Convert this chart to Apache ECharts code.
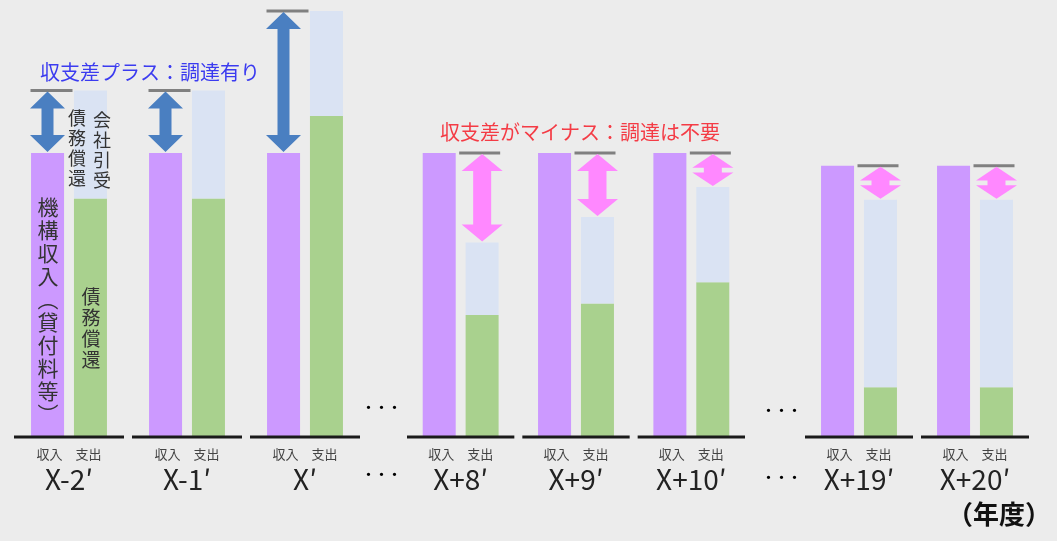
<!DOCTYPE html>
<html>
<head>
<meta charset="utf-8">
<script src="https://cdn.jsdelivr.net/npm/echarts@6/dist/echarts.min.js"></script>
<style>
  html,body{margin:0;padding:0;background:#ececec;}
  #main{width:1057px;height:541px;}
</style>
</head>
<body>
<div id="main"></div>
<script>
// 年度ごとの収支（機構収入=100 とした相対値）
var years = ['X-2′', 'X-1′', 'X′', 'X+8′', 'X+9′', 'X+10′', 'X+19′', 'X+20′'];
var income = [100, 100, 100, 100, 100, 100, 95.5, 95.5];      // 機構収入（貸付料等）
var repayment = [84, 84, 113, 43, 47, 54.5, 17.5, 17.5];      // 債務償還
var expenditure = [122, 122, 150, 68.5, 77.5, 88, 83.5, 83.5]; // 支出合計（会社引受債務償還を含む）
var panels = [[0, 3], [3, 6], [6, 8]];                          // 「・・・」で区切られた区間

var FONT = '"Noto Sans CJK JP", sans-serif';
var grids = [
  {left: 10, width: 354, top: 11, bottom: 104},
  {left: 403, width: 346, top: 11, bottom: 104},
  {left: 801, width: 232, top: 11, bottom: 104}
];

// 矢印・グレー線・下線
function renderGroup(params, api) {
  var idx = api.value(0);
  var inc = api.value(1), exp = api.value(2);
  var base = api.coord([idx, 0]);
  var band = api.size([1, 0])[0];
  var yInc = api.coord([idx, inc])[1];
  var yExp = api.coord([idx, exp])[1];
  var plus = exp > inc;
  var cx = plus ? base[0] - 21.5 : base[0] + 21.5;
  var yTop = Math.min(yInc, yExp), yBot = Math.max(yInc, yExp);
  var hw = plus ? 17.5 : 20.5, sw = plus ? 6 : 9;
  var hl = Math.min(17, (yBot - yTop) * 0.4);
  var t = yTop + 1, b = yBot - 1;
  var pts = [
    [cx, t], [cx + hw, t + hl], [cx + sw, t + hl], [cx + sw, b - hl], [cx + hw, b - hl],
    [cx, b], [cx - hw, b - hl], [cx - sw, b - hl], [cx - sw, t + hl], [cx - hw, t + hl]
  ];
  var gx1 = plus ? cx - 17 : cx - 23, gx2 = plus ? cx + 25 : cx + 18;
  return {
    type: 'group',
    children: [
      {type: 'line', shape: {x1: base[0] - band / 2 + 4, y1: base[1], x2: base[0] + band / 2 - 4, y2: base[1]},
        style: {stroke: '#1a1a1a', lineWidth: 3}},
      {type: 'line', shape: {x1: gx1, y1: yTop, x2: gx2, y2: yTop},
        style: {stroke: '#808080', lineWidth: 3}},
      {type: 'polygon', shape: {points: pts},
        style: {fill: plus ? '#4a7fc1' : '#ff88ff'}}
    ]
  };
}

var xAxis = [], yAxis = [], series = [];
for (var g = 0; g < panels.length; g++) {
  var s = panels[g][0], e = panels[g][1];
  xAxis.push({
    gridIndex: g, type: 'category', data: years.slice(s, e),
    axisLine: {show: false}, axisTick: {show: false},
    axisLabel: {
      margin: 9, interval: 0,
      formatter: function (v) { return '{s|収入　支出}\n{b|' + v + '}'; },
      rich: {
        s: {fontSize: 13, lineHeight: 17, color: '#444', fontFamily: FONT},
        b: {fontSize: 28, lineHeight: 32, color: '#222', fontFamily: FONT}
      }
    }
  });
  yAxis.push({gridIndex: g, type: 'value', min: 0, max: 150, show: false});
  var rest = [], grp = [];
  for (var i = s; i < e; i++) {
    rest.push(expenditure[i] - repayment[i]);
    grp.push([i - s, income[i], expenditure[i]]);
  }
  series.push({
    name: '収入', type: 'bar', xAxisIndex: g, yAxisIndex: g, stack: 'in' + g,
    barWidth: 33, barGap: '30%', itemStyle: {color: '#cc99ff'},
    data: income.slice(s, e)
  });
  series.push({
    name: '債務償還', type: 'bar', xAxisIndex: g, yAxisIndex: g, stack: 'out' + g,
    barWidth: 33, barGap: '30%', itemStyle: {color: '#a9d18e'},
    data: repayment.slice(s, e)
  });
  series.push({
    name: '会社引受', type: 'bar', xAxisIndex: g, yAxisIndex: g, stack: 'out' + g,
    barWidth: 33, barGap: '30%', itemStyle: {color: '#dae3f3'},
    data: rest
  });
  series.push({
    type: 'custom', xAxisIndex: g, yAxisIndex: g, z: 5, clip: false,
    renderItem: renderGroup, encode: {x: 0, y: [1, 2]},
    data: grp
  });
}

function vtext(str, x, y, size, color) {
  return {
    type: 'text', x: x, y: y, z: 10,
    style: {text: str.split('').join('\n'), fontSize: size, lineHeight: size + 2,
      fill: color || '#333', fontFamily: FONT, align: 'center'}
  };
}

function dots(x, y) {
  return {type: 'text', x: x, y: y,
    style: {text: '・・・', fontSize: 13, fontWeight: 'bold', fill: '#000', fontFamily: FONT}};
}

var option = {
  backgroundColor: '#ececec',
  animation: false,
  grid: grids,
  xAxis: xAxis,
  yAxis: yAxis,
  series: series,
  graphic: [
    {type: 'text', x: 40, y: 62, z: 10,
      style: {text: '収支差プラス：調達有り', fontSize: 20, fill: '#3b3bf0', fontFamily: FONT}},
    {type: 'text', x: 440, y: 122, z: 10,
      style: {text: '収支差がマイナス：調達は不要', fontSize: 20, fill: '#f43b45', fontFamily: FONT}},
    {type: 'text', x: 947, y: 501, z: 10,
      style: {text: '（年度）', fontSize: 26, fontWeight: 'bold', fill: '#111', fontFamily: FONT}},
    dots(362, 401), dots(362, 468), dots(762, 404), dots(762, 471),
    vtext('機構収入︵貸付料等︶', 48, 196, 21, '#333'),
    vtext('債務償還', 91, 286, 19, '#333'),
    vtext('債務償還', 77, 108, 18, '#333'),
    vtext('会社引受', 102, 110, 18, '#333')
  ]
};

var myChart = echarts.init(document.getElementById('main'));
myChart.setOption(option);
</script>
</body>
</html>
